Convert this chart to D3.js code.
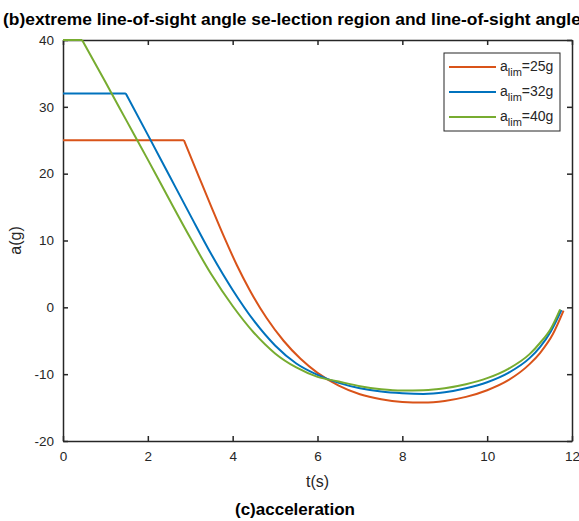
<!DOCTYPE html>
<head>
  <script src="https://d3js.org/d3.v7.min.js"></script>
  <meta charset='utf-8'>
  <style>
    body { margin: 0; background: #fff; }
    svg text { font-family: "Liberation Sans", Arial, Helvetica; fill: #262626; }
    .tick text { font-size: 13.5px; }
  </style>
</head>
<body>
<div id="chart"></div>
<script>

// values (first two points = saturated part)
var tOrange = [0, 2.85, 3.2, 3.5, 3.8, 4.1, 4.4, 4.8, 5.2, 5.6, 6.0, 6.5, 7.0, 7.5, 8.0, 8.5, 9.0, 9.5, 10.0, 10.5, 11.0, 11.25, 11.55, 11.8];
var aOrange = [25, 25, 19.6, 15.0, 10.5, 6.3, 2.6, -1.6, -5.0, -7.7, -9.8, -11.7, -13.0, -13.75, -14.15, -14.25, -14.0, -13.4, -12.4, -10.9, -8.5, -6.8, -4.0, -0.5];

var tBlue = [0, 1.48, 2.0, 2.5, 3.0, 3.5, 4.0, 4.5, 5.0, 5.5, 6.0, 6.5, 7.0, 7.5, 8.0, 8.5, 9.0, 9.5, 10.0, 10.5, 11.0, 11.25, 11.5, 11.75];
var aBlue = [32, 32, 25.8, 19.8, 13.8, 7.9, 2.6, -2.0, -5.7, -8.4, -10.1, -11.3, -12.1, -12.6, -12.85, -12.95, -12.7, -12.1, -11.2, -9.8, -7.6, -5.9, -3.6, -0.4];

var tGreen = [0, 0.45, 1.0, 1.5, 2.0, 2.5, 3.0, 3.5, 4.0, 4.5, 5.0, 5.5, 6.0, 6.5, 7.0, 7.5, 8.0, 8.5, 9.0, 9.5, 10.0, 10.5, 11.0, 11.25, 11.5, 11.72];
var aGreen = [40, 40, 33.7, 27.9, 22.1, 16.2, 10.4, 4.9, 0.2, -3.8, -6.9, -9.0, -10.4, -11.1, -11.8, -12.25, -12.45, -12.4, -12.1, -11.5, -10.6, -9.2, -7.0, -5.3, -3.2, -0.3];

var legendLims = ["25", "32", "40"];
var xTicks = [0, 2, 4, 6, 8, 10, 12];
var yTicks = [-20, -10, 0, 10, 20, 30, 40];

var series = [
  { t: tOrange, a: aOrange, lim: legendLims[0], color: "#D95319" },
  { t: tBlue, a: aBlue, lim: legendLims[1], color: "#0072BD" },
  { t: tGreen, a: aGreen, lim: legendLims[2], color: "#77AC30" }
];

var margin = {top: 40, right: 7, bottom: 80, left: 63},
    width = 579 - margin.left - margin.right,
    height = 521 - margin.top - margin.bottom;

var root = d3.select("#chart").append("svg")
    .attr("width", 579)
    .attr("height", 521);

var svg = root.append("g")
    .attr("transform", `translate(${margin.left},${margin.top})`);

var x = d3.scaleLinear().domain([0, 12]).range([0, width]);
var y = d3.scaleLinear().domain([-20, 40]).range([height, 0]);

// plain hyphen for negatives, like the original
var plain = function(d) { return String(d) };

// axes with inward ticks, box on
svg.append("g")
  .attr("transform", `translate(0,${height})`)
  .call(d3.axisBottom(x).tickValues(xTicks).tickFormat(plain).tickSize(-5).tickPadding(10).tickSizeOuter(0));
svg.append("g")
  .call(d3.axisTop(x).tickValues(xTicks).tickSize(-5).tickFormat("").tickSizeOuter(0));
svg.append("g")
  .call(d3.axisLeft(y).tickValues(yTicks).tickFormat(plain).tickSize(-5).tickPadding(9).tickSizeOuter(0));
svg.append("g")
  .attr("transform", `translate(${width},0)`)
  .call(d3.axisRight(y).tickValues(yTicks).tickSize(-5).tickFormat("").tickSizeOuter(0));

svg.selectAll(".domain, .tick line")
  .attr("stroke", "#262626")
  .attr("stroke-width", 1.5);
svg.selectAll(".tick text").attr("fill", "#262626");

// flat (saturated) part is straight, the rest a smooth curve
var flat = d3.line()
  .x(function(d) { return x(d[0]) })
  .y(function(d) { return y(d[1]) });
var smooth = d3.line()
  .x(function(d) { return x(d[0]) })
  .y(function(d) { return y(d[1]) })
  .curve(d3.curveMonotoneX);

series.forEach(function(s) {
  var pts = d3.zip(s.t, s.a);
  svg.append("path")
    .attr("fill", "none")
    .attr("stroke", s.color)
    .attr("stroke-width", 2)
    .attr("stroke-linejoin", "round")
    .attr("d", flat(pts.slice(0, 2)) + smooth(pts.slice(1)));
});

// labels
svg.append("text")
  .attr("x", width / 2)
  .attr("y", height + 46)
  .attr("text-anchor", "middle")
  .style("font-size", "16px")
  .text("t(s)");

svg.append("text")
  .attr("transform", `translate(-42,${height / 2}) rotate(-90)`)
  .attr("text-anchor", "middle")
  .style("font-size", "16px")
  .text("a(g)");

root.append("text")
  .attr("x", 3)
  .attr("y", 25)
  .style("font-size", "17.4px")
  .style("font-weight", "bold")
  .style("fill", "#000")
  .text("(b)extreme line-of-sight angle se-lection region and line-of-sight angle");

root.append("text")
  .attr("x", 295)
  .attr("y", 515)
  .attr("text-anchor", "middle")
  .style("font-size", "17px")
  .style("font-weight", "bold")
  .style("fill", "#000")
  .text("(c)acceleration");

// legend
var legend = root.append("g").attr("transform", "translate(444,53)");
legend.append("rect")
  .attr("width", 116)
  .attr("height", 78)
  .attr("fill", "#fff")
  .attr("stroke", "#262626")
  .attr("stroke-width", 1);

series.forEach(function(s, i) {
  var g = legend.append("g").attr("transform", `translate(0,${14 + i * 25})`);
  g.append("line")
    .attr("x1", 5).attr("x2", 52)
    .attr("stroke", s.color).attr("stroke-width", 2);
  var t = g.append("text").attr("x", 56).attr("y", 4).style("font-size", "14px");
  t.append("tspan").text("a");
  t.append("tspan").attr("dy", 5).style("font-size", "11px").text("lim");
  t.append("tspan").attr("dy", -5).text("=" + s.lim + "g");
});

</script>
</body>
